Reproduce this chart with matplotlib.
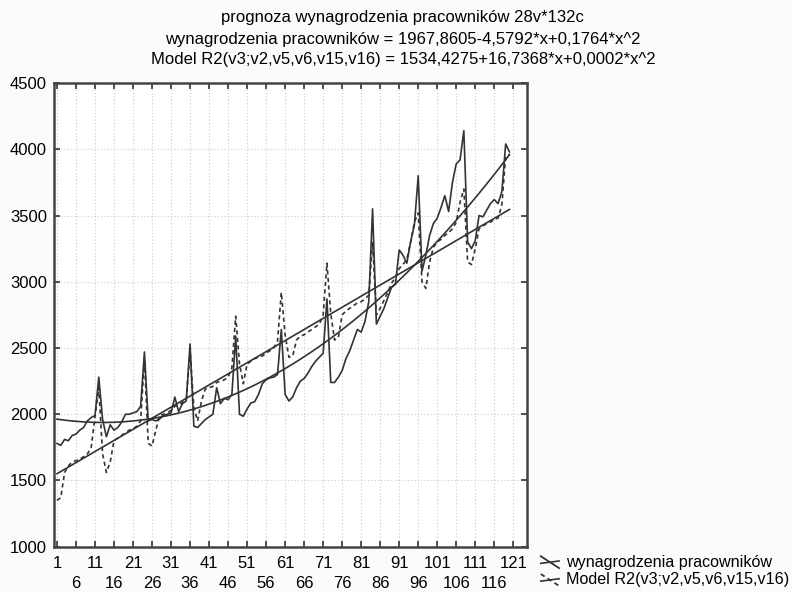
import numpy as np
import matplotlib.pyplot as plt
from matplotlib.lines import Line2D

plt.rcParams['font.family'] = ['Liberation Sans', 'DejaVu Sans']

# wynagrodzenia pracownikow
wynagrodzenia = [
    1780, 1765, 1810, 1800, 1840, 1850, 1880, 1900, 1950, 1975, 1990, 2280,
    1960, 1830, 1920, 1880, 1900, 1940, 2000, 2000, 2010, 2020, 2060, 2470,
    1950, 1960, 1950, 1965, 1990, 2000, 2010, 2130, 2020, 2080, 2100, 2530,
    1910, 1900, 1930, 1960, 1980, 2000, 2200, 2080, 2120, 2110, 2150, 2590,
    2000, 1985, 2040, 2085, 2095, 2150, 2230, 2260, 2275, 2280, 2300, 2640,
    2150, 2100, 2130, 2200, 2250, 2270, 2310, 2360, 2400, 2430, 2460, 2870,
    2240, 2240, 2280, 2330, 2420, 2480, 2560, 2640, 2620, 2700, 2850, 3550,
    2680, 2740, 2800, 2880, 2960, 2980, 3240, 3200, 3140, 3300, 3430, 3800,
    3080, 3200, 3350, 3440, 3480, 3560, 3650, 3530, 3750, 3890, 3920, 4140,
    3300, 3250, 3310, 3500, 3490, 3540, 3590, 3620, 3590, 3680, 4040, 3980,
]
# Model R2(v3;v2,v5,v6,v15,v16)
model = [
    1350, 1370, 1560, 1610, 1640, 1650, 1660, 1680, 1700, 1750, 1980, 2200,
    1700, 1560, 1640, 1800, 1820, 1840, 1860, 1880, 1890, 1910, 1950, 2420,
    1780, 1760, 1880, 1990, 2000, 2010, 2030, 2060, 2070, 2090, 2110, 2480,
    2050, 1950, 2100, 2190, 2200, 2210, 2240, 2250, 2260, 2280, 2350, 2740,
    2380, 2230, 2380, 2400, 2420, 2430, 2440, 2460, 2480, 2500, 2550, 2920,
    2600, 2430, 2440, 2560, 2590, 2600, 2620, 2640, 2660, 2680, 2750, 3140,
    2760, 2560, 2580, 2750, 2780, 2800, 2820, 2840, 2850, 2870, 2900, 3300,
    2750, 2800, 2860, 2920, 2990, 3030, 3100, 3130, 3170, 3300, 3450, 3520,
    3000, 2950, 3150, 3260, 3300, 3320, 3350, 3370, 3400, 3450, 3600, 3700,
    3150, 3130, 3250, 3400, 3420, 3440, 3450, 3470, 3480, 3580, 3950, 3960,
]
# wspolczynniki dopasowania z tytulu (a0, a1, a2)
wsp_wynagr = [1967.8605, -4.5792, 0.1764]
wsp_model = [1534.4275, 16.7368, 0.0002]

x = np.arange(1, len(wynagrodzenia) + 1)
kolor = '#333333'
kreski = (0, (2.5, 2))

fig = plt.figure(figsize=(7.93, 5.93), dpi=100, facecolor='#fbfbfb')
ax = fig.add_axes([0.068, 0.078, 0.597, 0.782])
ax.set_facecolor('white')

ax.plot(x, wynagrodzenia, color=kolor, lw=1.2)
ax.plot(x, model, color=kolor, lw=1.2, ls=kreski)
ax.plot(x, np.polyval(wsp_wynagr[::-1], x), color=kolor, lw=1.2)
ax.plot(x, np.polyval(wsp_model[::-1], x), color=kolor, lw=1.2)

ax.set_xlim(0.2, 124.7)
ax.set_ylim(1000, 4500)
# etykiety osi X w dwoch rzedach
xt1 = np.arange(1, 122, 10)
xt2 = np.arange(6, 122, 10)
ax.set_xticks(xt1)
ax.set_xticklabels([str(t) for t in xt1])
ax.set_xticks(xt2, minor=True)
ax.set_xticklabels([str(t) for t in xt2], minor=True)
ax.set_yticks(np.arange(1000, 4501, 500))
ax.tick_params(which='both', direction='in', length=4, width=1.2, color=kolor,
               labelsize=12, top=True, right=True)
ax.tick_params(axis='x', which='major', pad=7)
ax.tick_params(axis='x', which='minor', pad=21)
ax.tick_params(axis='y', pad=5)
ax.grid(True, which='both', color='#cccccc', ls=(0, (1, 2)), lw=0.8)
for s in ax.spines.values():
    s.set_color('#444444')
    s.set_linewidth(1.8)

fig.text(0.508, 0.971, 'prognoza wynagrodzenia pracowników 28v*132c', ha='center', va='center', fontsize=12)
fig.text(0.508, 0.934, 'wynagrodzenia pracowników = 1967,8605-4,5792*x+0,1764*x^2',
         ha='center', va='center', fontsize=12)
fig.text(0.508, 0.899, 'Model R2(v3;v2,v5,v6,v15,v16) = 1534,4275+16,7368*x+0,0002*x^2',
         ha='center', va='center', fontsize=12)

# legenda
fig.lines.append(Line2D([0.682, 0.705], [0.062, 0.042], color=kolor, lw=1.3, transform=fig.transFigure))
fig.lines.append(Line2D([0.682, 0.705], [0.050, 0.054], color=kolor, lw=1.2, transform=fig.transFigure))
fig.lines.append(Line2D([0.682, 0.705], [0.032, 0.012], color=kolor, lw=1.3, ls=kreski, transform=fig.transFigure))
fig.lines.append(Line2D([0.682, 0.705], [0.020, 0.024], color=kolor, lw=1.2, transform=fig.transFigure))
fig.text(0.714, 0.051, 'wynagrodzenia pracowników', ha='left', va='center', fontsize=11.6)
fig.text(0.714, 0.022, 'Model R2(v3;v2,v5,v6,v15,v16)', ha='left', va='center', fontsize=11.6)

fig.savefig('out.png', dpi=100, facecolor=fig.get_facecolor())
